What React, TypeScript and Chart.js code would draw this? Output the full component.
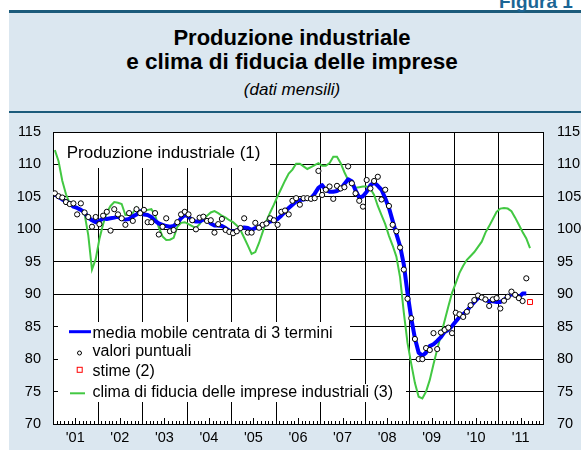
import React, { useEffect, useRef } from 'react';
import { Chart, registerables } from 'chart.js';

Chart.register(...registerables);

const FONT = '"Liberation Sans", Arial, Helvetica, sans-serif';

// ---- data ----
const yearLabels = ["'01", "'02", "'03", "'04", "'05", "'06", "'07", "'08", "'09", "'10", "'11"];
const monthsPerYear = 12;
const yMin = 70;
const yMax = 115;
const yStep = 5;

// monthly values, Jan 2001 onward
const valoriPuntuali = [
  105.55, 105.1, 104.9, 104.2, 103.9, 104.0, 102.3, 104.0, 102.6, 101.9, 100.4, 101.9,
  100.8, 102.1, 102.7, 99.8, 103.1, 102.3, 101.7, 100.7, 102.5, 101.3, 103.1, 102.5,
  103.0, 101.1, 101.1, 102.5, 99.2, 100.4, 101.7, 99.7, 99.9, 101.1, 102.3, 102.7,
  102.3, 101.4, 100.0, 101.8, 101.95, 101.3, 101.4, 99.5, 100.8, 101.6, 99.9, 99.6,
  99.4, 99.7, 100.2, 101.7, 99.5, 99.5, 101.0, 100.25, 100.7, 100.9, 101.7, 101.4,
  100.7, 102.7, 102.9, 102.3, 104.4, 104.8, 103.8, 104.8, 104.8, 104.7, 104.8, 109.0,
  105.3, 106.1, 106.6, 104.7, 106.7, 106.3, 106.5, 109.7, 107.1, 105.55, 104.4, 103.5,
  107.6, 106.3, 107.45, 108.1, 104.6, 106.1, 103.6, 100.7, 99.7, 97.2, 93.8, 89.3,
  86.3, 83.1, 80.0, 80.0, 81.7, 81.4, 84.0, 81.55, 84.1, 84.5, 84.85, 84.0,
  87.15, 86.9, 86.5, 87.3, 88.3, 89.1, 89.8, 89.5, 89.2, 88.2, 89.2, 89.4,
  87.8, 89.0, 89.6, 90.4, 89.9, 89.4, 88.95, 92.45,
];

const mediaMobile = [
  105.4, 105.0, 104.6, 104.3, 104.0, 103.5, 103.3, 103.0, 102.6, 101.8, 101.4, 101.1,
  101.3, 101.7, 101.6, 101.7, 101.8, 101.95, 101.6, 101.5, 101.6, 102.0, 102.3, 102.8,
  102.3, 102.2, 101.9, 101.3, 100.9, 100.7, 100.5, 100.4, 100.5, 101.0, 101.7, 102.2,
  102.0, 101.3, 101.2, 101.2, 101.5, 101.4, 100.9, 100.6, 100.6, 100.5, 100.2, 99.8,
  99.6, 99.8, 100.1, 100.3, 100.2, 99.9, 100.2, 100.4, 100.6, 100.9, 101.2, 101.3,
  101.6, 102.1, 102.7, 103.3, 103.8, 104.3, 104.5, 104.6, 104.7, 104.8, 105.5, 106.4,
  106.8, 106.0, 105.8, 105.8, 105.9, 106.2, 107.0, 107.7, 107.4, 106.0, 104.9, 105.1,
  105.8, 106.8, 107.2, 106.7, 106.1, 104.8, 103.3, 101.3, 99.3, 97.4, 94.6, 90.2,
  86.3, 83.2, 81.0, 80.5, 81.0, 82.0, 82.3, 82.8, 83.4, 84.2, 84.5, 85.1,
  85.8, 86.5, 86.9, 87.4, 88.2, 88.8, 89.4, 89.5, 89.1, 88.9, 88.9, 88.8,
  88.8, 89.1, 89.6, 90.0, 89.9, 89.5, 90.1, 90.1,
];

const climaFiducia = [
  112.2, 110.5, 107.5, 105.4, 104.0, 103.7, 103.4, 103.1, 102.4, 99.1, 93.8, 95.4,
  98.5, 100.8, 102.6, 103.6, 104.2, 104.1, 103.9, 102.2, 102.2, 102.5, 103.4, 102.6,
  102.8, 103.0, 103.1, 102.2, 100.3, 98.9, 98.35, 98.4, 98.7, 100.4, 101.0, 101.1,
  100.8, 100.5, 100.2, 100.8, 101.6, 102.1, 102.6, 102.8, 102.5, 102.1, 101.8, 101.4,
  101.1, 100.6, 99.9, 98.7, 97.5, 96.2, 96.5, 97.9, 99.6, 101.3, 102.6, 103.8,
  105.1, 106.3, 107.5, 108.6, 109.2, 110.1, 110.1, 109.7, 109.3, 109.6, 109.9, 110.2,
  109.8, 109.8, 110.2, 111.2, 111.2, 110.2, 108.8, 107.6, 106.8, 106.4, 106.5, 106.6,
  106.6, 106.3, 105.3, 103.6, 102.2, 100.8, 99.0, 97.5, 95.8, 92.6, 87.2, 82.5,
  79.3, 76.3, 74.2, 73.95, 75.0, 76.8, 79.2, 81.5, 83.7, 85.9, 88.1, 90.2,
  91.7, 93.3, 94.4, 95.3, 95.9, 96.5, 97.3, 98.1, 99.5, 100.5, 101.6, 102.7,
  103.2, 103.3, 103.2, 102.8, 101.8, 100.7, 99.6, 98.6, 97.1,
];

const stimeMese = [128];
const stimeValori = [88.8];

const panelTitle = 'Produzione industriale (1)';
const legendLabels = [
  'media mobile centrata di 3 termini',
  'valori puntuali',
  'stime (2)',
  'clima di fiducia delle imprese industriali (3)',
];

const BLUE = '#0000ff';
const GREEN = '#42c842';
const RED = '#ff0000';

const toXY = (vals: number[]) => vals.map((v, i) => ({ x: i + 0.5, y: v }));

const decorPlugin = {
  id: 'decor',
  beforeDraw(chart: any) {
    const { ctx, chartArea: a } = chart;
    ctx.save();
    ctx.fillStyle = '#ffffff';
    ctx.fillRect(a.left, a.top, a.right - a.left, a.bottom - a.top);
    ctx.restore();
  },
  beforeDatasetsDraw(chart: any) {
    const { ctx, chartArea: a, scales } = chart;
    const x = scales.x;
    const total = yearLabels.length * monthsPerYear;
    ctx.save();
    ctx.strokeStyle = '#000';
    ctx.lineWidth = 1;
    ctx.beginPath();
    for (let m = 1; m < total; m++) {
      const px = Math.round(x.getPixelForValue(m)) + 0.5;
      if (m % monthsPerYear === 0) {
        ctx.moveTo(px, a.top);
        ctx.lineTo(px, a.bottom);
      } else {
        const len = m % monthsPerYear === 6 ? 6 : 3;
        ctx.moveTo(px, a.bottom);
        ctx.lineTo(px, a.bottom - len);
      }
    }
    ctx.stroke();
    // opaque backgrounds of the annotations
    ctx.fillStyle = '#ffffff';
    ctx.fillRect(a.left + 7, a.top + 1, 210, 35);
    ctx.fillRect(a.left + 5, a.top + 190, 292, 62);
    ctx.fillRect(a.left + 5, a.top + 252, 348, 18);
    ctx.restore();
  },
  afterDatasetsDraw(chart: any) {
    const { ctx, chartArea: a } = chart;
    ctx.save();
    ctx.fillStyle = '#000';
    ctx.textAlign = 'left';
    ctx.textBaseline = 'alphabetic';
    ctx.font = `17px ${FONT}`;
    ctx.fillText(panelTitle, a.left + 13.7, a.top + 25.7);
    ctx.font = `16px ${FONT}`;
    const baselines = [206, 224, 244, 265];
    legendLabels.forEach((t, i) => ctx.fillText(t, a.left + 39.5, a.top + baselines[i]));
    // symbols
    ctx.strokeStyle = BLUE;
    ctx.lineWidth = 3;
    ctx.beginPath();
    ctx.moveTo(a.left + 16, a.top + 199.7);
    ctx.lineTo(a.left + 38, a.top + 199.7);
    ctx.stroke();
    ctx.strokeStyle = '#000';
    ctx.fillStyle = '#fff';
    ctx.lineWidth = 1;
    ctx.beginPath();
    ctx.arc(a.left + 26.5, a.top + 221, 2, 0, Math.PI * 2);
    ctx.fill();
    ctx.stroke();
    ctx.strokeStyle = RED;
    ctx.fillStyle = '#fff';
    ctx.fillRect(a.left + 24.2, a.top + 235.3, 5, 5);
    ctx.strokeRect(a.left + 24.2, a.top + 235.3, 5, 5);
    ctx.strokeStyle = GREEN;
    ctx.lineWidth = 2;
    ctx.beginPath();
    ctx.moveTo(a.left + 17, a.top + 261.3);
    ctx.lineTo(a.left + 32, a.top + 261.3);
    ctx.stroke();
    ctx.restore();
  },
};

export default function App() {
  const canvasRef = useRef<HTMLCanvasElement>(null);

  useEffect(() => {
    if (!canvasRef.current) return;
    const tickFont = { family: FONT, size: 14.5 };
    const chart = new Chart(canvasRef.current, {
      type: 'line',
      data: {
        datasets: [
          {
            label: 'valori puntuali',
            data: toXY(valoriPuntuali),
            showLine: false,
            pointRadius: 2.6,
            pointBorderWidth: 1,
            pointBorderColor: '#000',
            pointBackgroundColor: '#fff',
          },
          {
            label: 'stime',
            data: stimeMese.map((m, i) => ({ x: m + 0.5, y: stimeValori[i] })),
            showLine: false,
            pointStyle: 'rect',
            pointRadius: 3.5,
            pointBorderWidth: 1,
            pointBorderColor: RED,
            pointBackgroundColor: '#fff',
          },
          {
            label: 'media mobile',
            data: toXY(mediaMobile),
            borderColor: BLUE,
            borderWidth: 4,
            pointRadius: 0,
            tension: 0,
            borderJoinStyle: 'round',
          },
          {
            label: 'clima di fiducia',
            data: toXY(climaFiducia),
            borderColor: GREEN,
            borderWidth: 2,
            pointRadius: 0,
            tension: 0,
          },
        ],
      } as any,
      options: {
        responsive: false,
        animation: false,
        devicePixelRatio: 1,
        layout: { padding: { top: 132, left: 0, right: 0, bottom: 0 } },
        plugins: {
          legend: { display: false },
          tooltip: { enabled: false },
        },
        scales: {
          x: {
            type: 'linear',
            min: 0,
            max: yearLabels.length * monthsPerYear,
            afterBuildTicks: (s: any) => {
              s.ticks = yearLabels.map((_, k) => ({ value: k * monthsPerYear + 6 }));
            },
            ticks: {
              callback: (_v: any, i: number) => yearLabels[i],
              autoSkip: false,
              maxRotation: 0,
              font: tickFont,
              color: '#000',
              padding: 5,
            },
            grid: { display: false, drawTicks: false },
            border: { display: true, color: '#000', width: 1 },
            afterFit: (s: any) => {
              s.height = 26;
            },
          },
          y: {
            type: 'linear',
            position: 'left',
            min: yMin,
            max: yMax,
            ticks: { stepSize: yStep, font: tickFont, color: '#000', padding: 12 },
            grid: { color: '#000', lineWidth: 1, drawTicks: false },
            border: { display: true, color: '#000', width: 1 },
            afterFit: (s: any) => {
              s.width = 53;
            },
          },
          y2: {
            type: 'linear',
            position: 'right',
            min: yMin,
            max: yMax,
            ticks: { stepSize: yStep, font: tickFont, color: '#000', padding: 14 },
            grid: { display: false, drawTicks: false },
            border: { display: true, color: '#000', width: 1 },
            afterFit: (s: any) => {
              s.width = 38;
            },
          },
        },
      } as any,
      plugins: [decorPlugin],
    });
    return () => chart.destroy();
  }, []);

  const titleBase: React.CSSProperties = {
    position: 'absolute',
    left: 0,
    width: 584,
    textAlign: 'center',
    color: '#000',
    whiteSpace: 'nowrap',
  };

  return (
    <div
      style={{
        position: 'absolute',
        left: 0,
        top: 0,
        width: 581,
        height: 450,
        overflow: 'hidden',
        fontFamily: FONT,
      }}
    >
      <div style={{ position: 'absolute', left: 9, top: 13, width: 600, height: 437, background: '#dbe7f0' }} />
      <div style={{ position: 'absolute', left: 9, top: 10, width: 600, height: 3, background: '#1b5b7b' }} />
      <div style={{ position: 'absolute', left: 9, top: 111, width: 600, height: 2, background: '#1b5b7b' }} />
      <div
        style={{
          position: 'absolute',
          left: 499,
          top: -8.5,
          fontSize: 19,
          lineHeight: '19px',
          fontWeight: 'bold',
          color: '#1b6595',
          whiteSpace: 'nowrap',
        }}
      >
        Figura 1
      </div>
      <div style={{ ...titleBase, top: 27.4, fontSize: 22, lineHeight: '22px', fontWeight: 'bold' }}>
        Produzione industriale
      </div>
      <div style={{ ...titleBase, top: 51.2, fontSize: 22.5, lineHeight: '22.5px', fontWeight: 'bold' }}>
        e clima di fiducia delle imprese
      </div>
      <div style={{ ...titleBase, top: 80.6, fontSize: 17, lineHeight: '17px', fontStyle: 'italic' }}>
        (dati mensili)
      </div>
      <canvas ref={canvasRef} width={581} height={450} style={{ position: 'absolute', left: 0, top: 0 }} />
    </div>
  );
}
